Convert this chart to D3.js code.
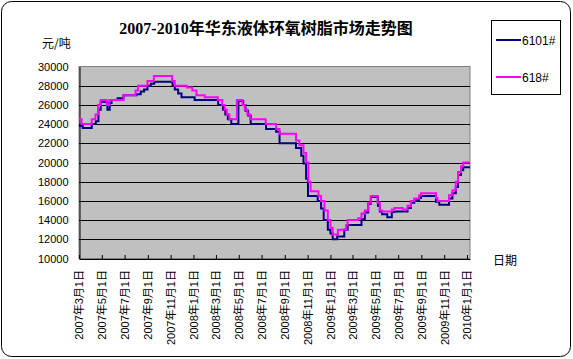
<!DOCTYPE html>
<html><head><meta charset="utf-8">
<script src="https://cdn.jsdelivr.net/npm/d3@7"></script>
<style>body{margin:0;background:#fff}svg{display:block}</style>
</head><body><svg id="c" width="573" height="359"></svg>
<script>
const title = "2007-2010年华东液体环氧树脂市场走势图";
const yTicks = [10000,12000,14000,16000,18000,20000,22000,24000,26000,28000,30000];
const seriesNames = ["6101#","618#"];
const dates6101 = ["2007-03-01","2007-03-11","2007-04-04","2007-04-15","2007-04-22","2007-04-28","2007-05-16","2007-05-22","2007-05-27","2007-06-12","2007-06-28","2007-08-02","2007-08-13","2007-08-22","2007-08-31","2007-09-09","2007-09-18","2007-11-06","2007-11-12","2007-11-21","2007-11-30","2008-01-04","2008-03-07","2008-03-20","2008-03-26","2008-04-02","2008-04-11","2008-04-30","2008-05-13","2008-05-19","2008-05-26","2008-06-02","2008-07-13","2008-08-09","2008-08-18","2008-10-01","2008-10-15","2008-10-21","2008-10-28","2008-11-02","2008-11-28","2008-12-07","2008-12-14","2008-12-25","2009-01-01","2009-01-07","2009-01-19","2009-02-07","2009-02-16","2009-03-25","2009-04-03","2009-04-12","2009-04-19","2009-05-08","2009-05-13","2009-05-19","2009-06-02","2009-06-14","2009-06-21","2009-07-26","2009-08-04","2009-08-13","2009-08-26","2009-08-31","2009-10-10","2009-10-19","2009-11-14","2009-11-23","2009-12-02","2009-12-08","2009-12-16","2009-12-22","2010-01-09"];
const values6101 = [23800,23600,24000,24300,25500,26300,25500,26200,26500,26700,27000,27100,27400,27600,28000,28200,28400,28000,27600,27200,26800,26500,26000,25500,25000,24500,24000,26400,26000,25400,24900,24000,23500,23200,22000,21500,20700,19900,18300,16500,16000,15200,14000,13000,12600,12000,12300,13000,13500,14100,14800,15700,16400,15500,14900,14600,14300,14850,14900,15250,15800,16100,16300,16500,15900,15600,16250,16800,17450,18700,19200,19500,19500];
const dates618 = ["2007-03-01","2007-03-08","2007-04-04","2007-04-14","2007-04-21","2007-04-28","2007-05-14","2007-05-21","2007-06-28","2007-07-30","2007-08-06","2007-08-31","2007-09-17","2007-11-05","2007-11-12","2007-12-15","2007-12-29","2008-01-09","2008-01-31","2008-03-06","2008-03-18","2008-03-24","2008-03-30","2008-04-06","2008-04-26","2008-05-11","2008-05-17","2008-05-24","2008-05-31","2008-07-12","2008-08-09","2008-08-18","2008-10-01","2008-10-10","2008-10-21","2008-10-28","2008-11-03","2008-11-09","2008-11-30","2008-12-07","2008-12-16","2008-12-25","2009-01-01","2009-01-07","2009-01-21","2009-02-12","2009-02-16","2009-03-16","2009-03-25","2009-04-03","2009-04-12","2009-04-19","2009-05-07","2009-05-13","2009-05-19","2009-06-14","2009-06-21","2009-07-13","2009-07-26","2009-08-04","2009-08-13","2009-08-26","2009-08-31","2009-10-10","2009-10-14","2009-11-14","2009-11-23","2009-12-02","2009-12-08","2009-12-16","2009-12-22","2010-01-09"];
const values618 = [24500,24000,24500,25000,26000,26500,26000,26500,27000,27500,28000,28500,29000,28500,28000,27800,27500,27000,26800,26500,26000,25500,25000,24500,26500,26000,25500,25000,24500,24000,23500,23000,22300,21800,21000,20000,18000,17000,16500,16000,15000,14000,13200,12500,13000,13500,14000,14200,14700,15000,15800,16500,15800,15000,14900,15100,15250,15100,15500,16000,16250,16600,16800,16300,16000,16600,17100,18000,19000,19600,20000,20000];

const parse = d3.utcParse("%Y-%m-%d");
const svg = d3.select("#c");
const L = 79, R = 470, T = 66.5, B = 258.5;
const x = d3.scaleUtc().domain([parse("2007-03-01"), parse("2010-01-09")]).range([L, R]);
const y = d3.scaleLinear().domain([10000, 30000]).range([B, T]);

// outer frame
svg.append("rect").attr("x",1.5).attr("y",1.5).attr("width",569).attr("height",355)
  .attr("rx",10).attr("fill","#fff").attr("stroke","#000").attr("stroke-width",1);

// plot area
svg.append("rect").attr("x",L).attr("y",T).attr("width",R-L).attr("height",B-T)
  .attr("fill","#c0c0c0").attr("stroke","#808080").attr("stroke-width",1);

// gridlines
svg.append("g").selectAll("line").data(yTicks.filter(v => v > 10000 && v < 30000)).join("line")
  .attr("x1",L).attr("x2",R).attr("y1",d => Math.round(y(d))+0.5).attr("y2",d => Math.round(y(d))+0.5)
  .attr("stroke","#000").attr("stroke-width",1);

// y axis
const yAxis = svg.append("g").attr("transform",`translate(${L+0.5},0)`)
  .call(d3.axisLeft(y).tickValues(yTicks).tickSize(0).tickPadding(11).tickFormat(d3.format("d")));
yAxis.select(".domain").attr("stroke","#000");
yAxis.selectAll("text").attr("font-family","Liberation Sans, Arial, sans-serif").attr("font-size",11).attr("fill","#000");

// x axis
const xt = d3.utcMonth.range(parse("2007-03-01"), parse("2010-01-02"), 2);
const xAxis = svg.append("g").attr("transform",`translate(0,${B+0.5})`)
  .call(d3.axisBottom(x).tickValues(xt).tickSizeInner(-4).tickSizeOuter(0)
    .tickFormat(d => `${d.getUTCFullYear()}年${d.getUTCMonth()+1}月${d.getUTCDate()}日`));
xAxis.select(".domain").attr("stroke","#000");
xAxis.selectAll(".tick line").attr("stroke","#000");
xAxis.selectAll("text").attr("transform","rotate(-90)").attr("text-anchor","end")
  .attr("x",-11).attr("y",0).attr("dy","0.35em")
  .attr("font-family","Liberation Sans, Noto Sans CJK SC, sans-serif").attr("font-size",11).attr("fill","#000");

// lines
const line = d3.line().x(d => x(d[0])).y(d => y(d[1])).curve(d3.curveStepAfter);
const d6101 = dates6101.map((d,i) => [parse(d), values6101[i]]);
const d618 = dates618.map((d,i) => [parse(d), values618[i]]);
svg.append("path").attr("d", line(d6101)).attr("fill","none").attr("stroke","#000080").attr("stroke-width",2);
svg.append("path").attr("d", line(d618)).attr("fill","none").attr("stroke","#ff00ff").attr("stroke-width",2);

// title & axis titles
svg.append("text").attr("x",266).attr("y",34).attr("text-anchor","middle")
  .attr("font-family","Liberation Serif, Noto Sans CJK SC, serif").attr("font-weight","bold").attr("font-size",16)
  .text(title);
svg.append("text").attr("x",42).attr("y",48).attr("font-family","Noto Sans CJK SC, sans-serif").attr("font-size",12).text("元/吨");
svg.append("text").attr("x",493).attr("y",265).attr("font-family","Noto Sans CJK SC, sans-serif").attr("font-size",12).text("日期");

// legend
svg.append("rect").attr("x",491.5).attr("y",20.5).attr("width",69).attr("height",74).attr("fill","#fff").attr("stroke","#000");
const colors = ["#000080","#ff00ff"];
const ly = [40, 77];
seriesNames.forEach((n,i) => {
  svg.append("line").attr("x1",496).attr("x2",521).attr("y1",ly[i]).attr("y2",ly[i]).attr("stroke",colors[i]).attr("stroke-width",2);
  svg.append("text").attr("x",522).attr("y",ly[i]+4.5).attr("font-family","Liberation Sans, Arial, sans-serif").attr("font-size",12).text(n);
});
</script></body></html>
